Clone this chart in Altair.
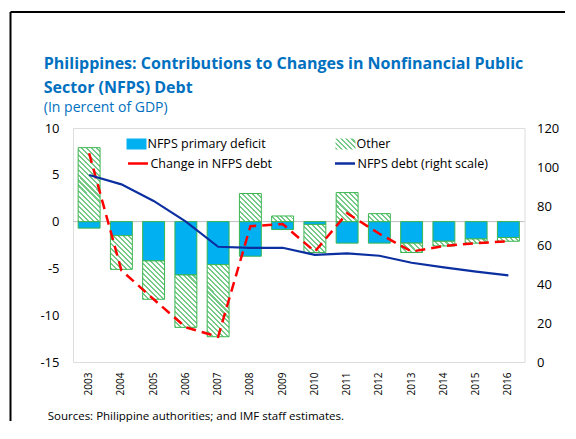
import altair as alt
import pandas as pd

# ---------------- data ----------------
years = [str(y) for y in range(2003, 2017)]
primary_deficit = [-0.7, -1.5, -4.2, -5.7, -4.6, -3.7, -0.85, -0.3, -2.3, -2.3, -2.3, -2.1, -1.85, -1.7]
other = [7.9, -3.6, -4.1, -5.6, -7.7, 3.0, 0.6, -3.0, 3.1, 0.85, -1.0, -0.5, -0.45, -0.4]
change_in_debt = [7.3, -5.2, -8.3, -11.3, -12.3, -0.5, -0.25, -3.2, 0.9, -1.3, -3.2, -2.6, -2.3, -2.1]
nfps_debt = [95.9, 91.1, 82.6, 72.0, 59.1, 58.5, 58.6, 54.9, 55.7, 54.5, 50.9, 48.5, 46.3, 44.4]

bar_names = ["NFPS primary deficit", "Other"]
line_names = ["Change in NFPS debt", "NFPS debt (right scale)"]
left_ticks = [-15, -10, -5, 0, 5, 10]
right_ticks = [0, 20, 40, 60, 80, 100, 120]

title_lines = ["Philippines: Contributions to Changes in Nonfinancial Public",
               "Sector (NFPS) Debt"]
subtitle = "(In percent of GDP)"
source = "Sources: Philippine authorities; and IMF staff estimates."

# ---------------- tables ----------------
prim_df = pd.DataFrame({"year": years, "p0": 0.0, "p1": primary_deficit,
                        "bar_series": bar_names[0]})
o0, o1 = [], []
for p, o in zip(primary_deficit, other):
    if p * o > 0:
        o0.append(p); o1.append(p + o)
    else:
        o0.append(0.0); o1.append(o)
other_df = pd.DataFrame({"year": years, "o0": o0, "o1": o1, "other": other})
line_df = pd.DataFrame({"year": years, "change": change_in_debt, "debt": nfps_debt,
                        "line_series": line_names[1]})

# ---------------- styles ----------------
FONT = "Open Sans"
BLUE_T = "#0070C0"
TEAL = "#00B0F0"
GREEN = "#3CB550"
HATCH = "#74CA86"
RED = "#FF0000"
NAVY = "#0B2FA0"
PLOT_W, PLOT_H = 451.5, 234
BAR_W = 22
PX_PER_UNIT = PLOT_H / 25.0


def hatch_stops(w, h, period=5.0, frac=0.42):
    k = (w + h) / (w * w + h * h)
    n = max(1, int(round((w + h) / period)))
    stops = []
    for i in range(n):
        a = round(i / n, 5)
        b = round((i + frac) / n, 5)
        c = round((i + 1) / n, 5)
        stops += [(a, HATCH), (b, HATCH), (b, "#FFFFFF"), (c, "#FFFFFF")]
    return round(w * k, 5), round(1 - h * k, 5), stops


def hatch(w, h):
    x2, y2, stops = hatch_stops(w, h)
    return {"gradient": "linear", "x1": 0, "y1": 1, "x2": x2, "y2": y2,
            "stops": [{"offset": o, "color": c} for o, c in stops]}


def hatch_expr(w, h):
    x2, y2, stops = hatch_stops(w, h)
    s = ",".join("{offset:%s,color:'%s'}" % (o, c) for o, c in stops)
    return "{gradient:'linear',x1:0,y1:1,x2:%s,y2:%s,stops:[%s]}" % (x2, y2, s)


x_enc = alt.X(
    "year:O",
    scale=alt.Scale(paddingInner=0.32, paddingOuter=0.16),
    axis=alt.Axis(labelAngle=-90, labelFont=FONT, labelFontSize=10, labelColor="black",
                  labelPadding=10, ticks=False, tickSize=0, domain=False,
                  title=source, titleFont=FONT, titleFontSize=11.5, titleFontWeight="normal",
                  titleColor="black", titleAnchor="start", titleAlign="left",
                  titleBaseline="alphabetic", titleX=-25.8, titleY=57.3),
)

left_axis = alt.Axis(values=left_ticks, grid=False, ticks=False, tickSize=0, domain=False,
                     labelPadding=14, labelFont=FONT, labelFontSize=13, labelColor="black",
                     labelExpr="datum.value + ''")
left_scale = alt.Scale(domain=[-15, 10], nice=False, zero=False)


def yl(field):
    return alt.Y(f"{field}:Q", scale=left_scale, axis=left_axis, title=None)


def yl2(field):
    return alt.Y2(f"{field}:Q")


bar_legend = alt.Legend(
    orient="none", legendX=53.5, legendY=5.75, direction="horizontal", columns=2,
    columnPadding=69, title=None, labelFont=FONT, labelFontSize=12.5, labelColor="black",
    labelOffset=1, symbolSize=400, padding=0, symbolType="M-1,-0.55H1V0.55H-1Z",
    symbolStrokeWidth=0, symbolOpacity=1,
)
line_legend = alt.Legend(
    orient="none", legendX=53.5, legendY=24, direction="horizontal", columns=2,
    columnPadding=57, title=None, labelFont=FONT, labelFontSize=12.5, labelColor="black",
    labelOffset=1, symbolSize=400, padding=0, symbolType="stroke",
    symbolStrokeWidth=2.5, symbolOpacity=1,
)

zero = alt.Chart(pd.DataFrame({"z": [0]})).mark_rule(color="#BFBFBF", strokeWidth=1).encode(
    y=yl("z"))

prim_bars = alt.Chart(prim_df).mark_bar(stroke=GREEN, strokeWidth=1).encode(
    x=x_enc, y=yl("p0"), y2=yl2("p1"),
    fill=alt.Fill("bar_series:N",
                  scale=alt.Scale(domain=bar_names,
                                  range=[TEAL, {"expr": hatch_expr(20, 11)}]),
                  legend=bar_legend),
)

other_layers = []
for yr, ov in zip(years, other):
    h = abs(ov) * PX_PER_UNIT
    other_layers.append(
        alt.Chart(other_df).transform_filter(alt.datum.year == yr)
        .mark_bar(fill=hatch(BAR_W, max(h, 1.0)), stroke=GREEN, strokeWidth=1)
        .encode(x=x_enc, y=yl("o0"), y2=yl2("o1"))
    )

change_line = alt.Chart(line_df).mark_line(
    color=RED, strokeWidth=2.5, strokeDash=[10, 6]).encode(
    x=x_enc, y=yl("change"))

frame_left = alt.Chart(pd.DataFrame({"a": [0]})).mark_rule(color="black", strokeWidth=2).encode(
    x=alt.value(-62.5), y=alt.value(-116), y2=alt.value(293))
frame_top = alt.Chart(pd.DataFrame({"a": [0]})).mark_rule(color="black", strokeWidth=2).encode(
    x=alt.value(-62.5), x2=alt.value(492), y=alt.value(-116))

left = alt.layer(zero, prim_bars, *other_layers, change_line, frame_left, frame_top)

debt_line = alt.Chart(line_df).mark_line(strokeWidth=2.2).encode(
    x=x_enc,
    y=alt.Y("debt:Q", scale=alt.Scale(domain=[0, 120], nice=False),
            axis=alt.Axis(orient="right", values=right_ticks, grid=False, ticks=False,
                          tickSize=0, domain=False, labelPadding=12, labelFont=FONT,
                          labelFontSize=13, labelColor="black"),
            title=None),
    stroke=alt.Stroke("line_series:N", scale=alt.Scale(domain=line_names, range=[RED, NAVY]),
                      legend=line_legend),
)

chart = alt.layer(left, debt_line).resolve_scale(y="independent").properties(
    width=PLOT_W, height=PLOT_H,
    padding={"left": 1, "top": 3, "right": 0, "bottom": 0},
    title=alt.TitleParams(text=title_lines, subtitle=subtitle, anchor="start", frame="group",
                          dx=-29.2, font=FONT, fontSize=16, fontWeight="bold", color=BLUE_T,
                          lineHeight=23.5, subtitleFont=FONT, subtitleFontSize=14,
                          subtitleColor=BLUE_T, subtitlePadding=5, offset=-103.5),
).configure_view(stroke="#BFBFBF", strokeWidth=1).configure(background="white")

chart.save("out.html", embed_options={"renderer": "svg", "actions": False})
